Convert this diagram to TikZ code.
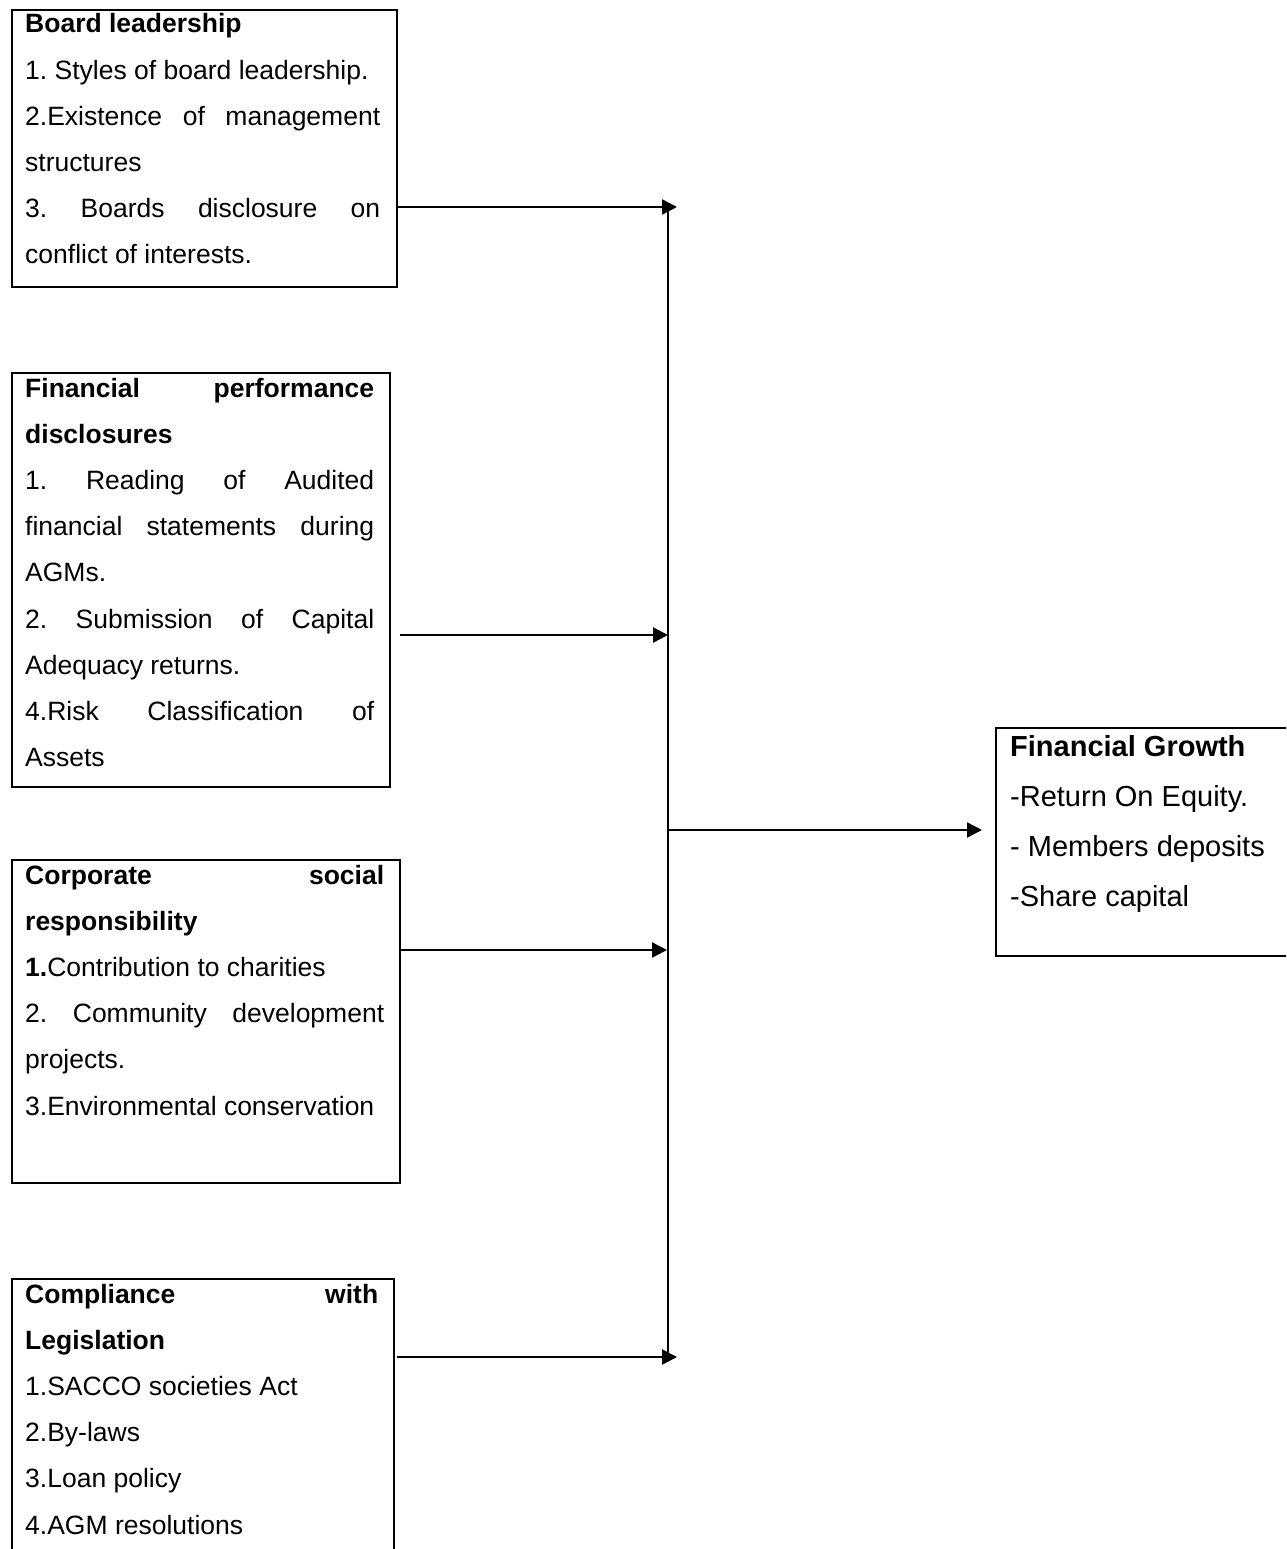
\documentclass[tikz,border=0pt]{standalone}
\usepackage{fontspec}
\setmainfont{Liberation Sans}
\usetikzlibrary{arrows.meta}
\frenchspacing
\newcommand\bodyfnt{\fontsize{26.5pt}{46.2pt}\selectfont}
\newcommand\outfnt{\fontsize{29pt}{50.3pt}\selectfont}
\newcommand\jline[1]{\makebox[\linewidth][s]{#1}}
\begin{document}
\begin{tikzpicture}[x=1pt,y=-1pt,
  box/.style={draw, line width=2.4pt, rectangle, anchor=north west, inner sep=0pt},
  txt/.style={anchor=base west, inner sep=0pt, align=left},
  conn/.style={line width=2.4pt},
  arr/.style={line width=2.4pt, -{Triangle[length=15pt,width=15pt]}}]
\useasboundingbox (0,0) rectangle (1286,1549);
\clip (0,0) rectangle (1286,1549);
% boxes
\node[box, minimum width=385pt, minimum height=277pt] (b1) at (11,9) {};
\node[box, minimum width=378pt, minimum height=414pt] (b2) at (11,372) {};
\node[box, minimum width=388pt, minimum height=323pt] (b3) at (11,859) {};
\node[box, minimum width=382pt, minimum height=290pt] (b4) at (11,1278) {};
\node[box, minimum width=310pt, minimum height=228pt] (b5) at (995,727) {};
% texts
\node[txt] (t1) at (25,33) {\parbox[t]{355pt}{\bodyfnt
\textbf{Board leadership}\\
1. Styles of board leadership.\\
\jline{2.Existence of management}\\
structures\\
\jline{3. Boards disclosure on}\\
conflict of interests.}};
\node[txt] (t2) at (25,397) {\parbox[t]{349pt}{\bodyfnt
\jline{\textbf{Financial performance}}\\
\textbf{disclosures}\\
\jline{1. Reading of Audited}\\
\jline{financial statements during}\\
AGMs.\\
\jline{2. Submission of Capital}\\
Adequacy returns.\\
\jline{4.Risk Classification of}\\
Assets}};
\node[txt] (t3) at (25,884) {\parbox[t]{359pt}{\bodyfnt
\jline{\textbf{Corporate social}}\\
\textbf{responsibility}\\
\textbf{1.}Contribution to charities\\
\jline{2. Community development}\\
projects.\\
3.Environmental conservation}};
\node[txt] (t4) at (25,1303) {\parbox[t]{353pt}{\bodyfnt
\jline{\textbf{Compliance with}}\\
\textbf{Legislation}\\
1.SACCO societies Act\\
2.By-laws\\
3.Loan policy\\
4.AGM resolutions}};
\node[txt] (t5) at (1010,756) {\parbox[t]{280pt}{\outfnt
\textbf{Financial Growth}\\
-Return On Equity.\\
- Members deposits\\
-Share capital}};
% connectors
\coordinate (a1) at (677,207);
\coordinate (a2) at (668,635);
\coordinate (a3) at (667,950);
\coordinate (a4) at (677,1357);
\coordinate (jt) at (668,207);
\coordinate (jb) at (668,1357);
\coordinate (jm) at (668,830);
\draw[conn] (jt) -- (jb);
\draw[arr] (b1.east |- a1) -- (a1);
\draw[arr] ([xshift=9pt]b2.east |- a2) -- (a2);
\draw[arr] (b3.east |- a3) -- (a3);
\draw[arr] ([xshift=2pt]b4.east |- a4) -- (a4);
\draw[arr, shorten >=13pt] (jm) -- (b5.west |- jm);
\end{tikzpicture}
\end{document}
